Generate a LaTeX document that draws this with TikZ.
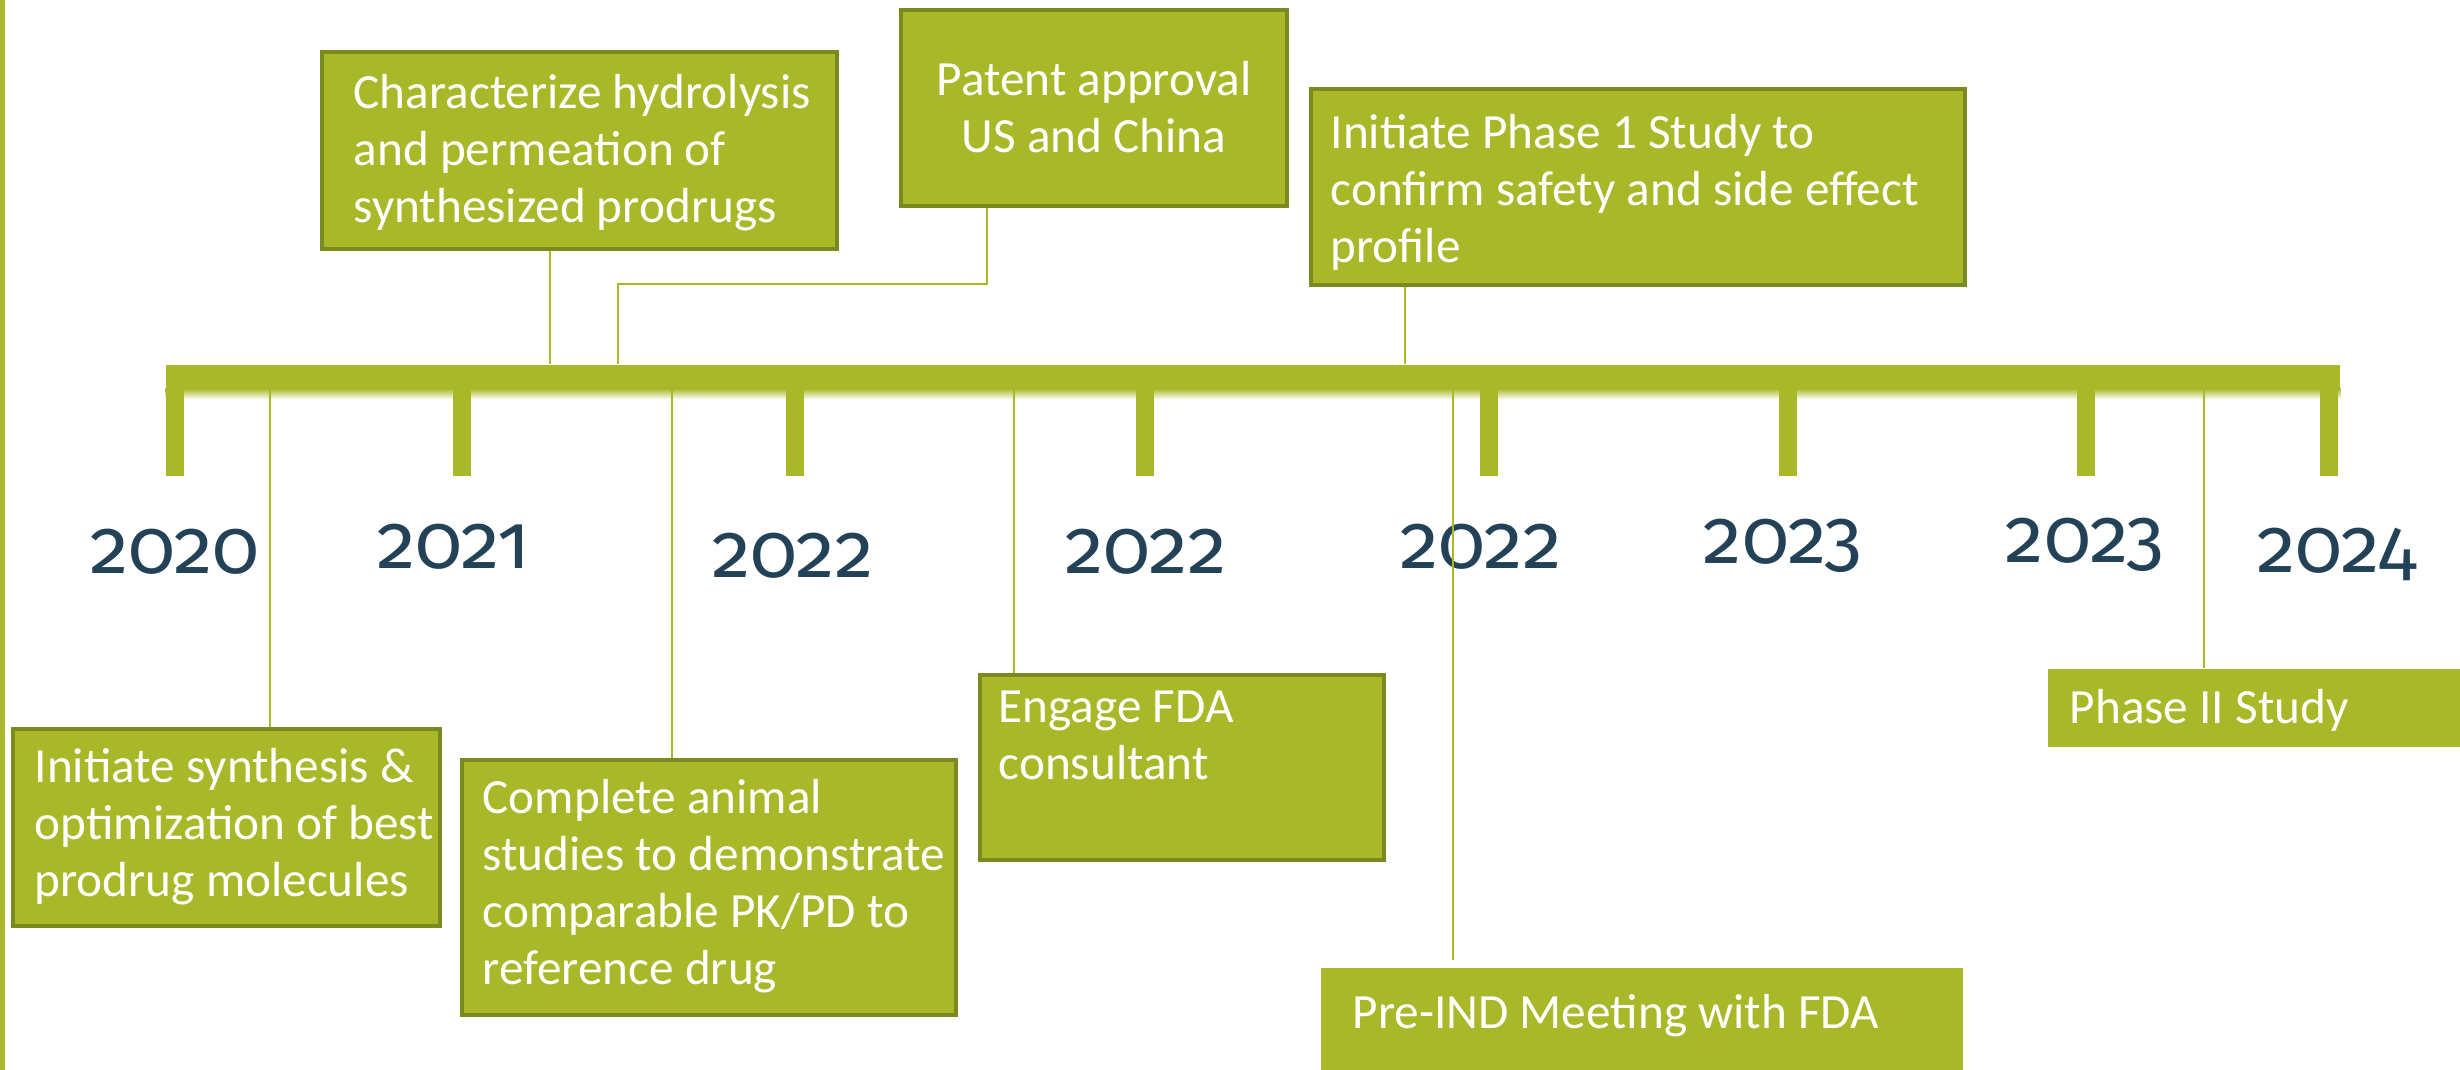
\documentclass[tikz,border=0pt]{standalone}
\usepackage{fontspec}
\setmainfont{Carlito}
\newfontfamily\yearfont{Fira Sans}[Numbers=OldStyle]
\definecolor{leaf}{RGB}{168,184,41}
\definecolor{leafdark}{RGB}{122,138,30}
\definecolor{slate}{RGB}{35,66,88}

\begin{document}
\begin{tikzpicture}[x=0.01cm,y=-0.01cm,
    stage/.style={fill=leaf,draw=leafdark,line width=1.1pt,inner sep=0pt,anchor=north west},
    flatbox/.style={fill=leaf,inner sep=0pt,anchor=north west},
    txt/.style={text=white,font=\fontsize{14}{16.2}\selectfont,align=left,anchor=base west,inner sep=0pt},
    tickmark/.style={fill=leaf,inner sep=0pt,minimum width=0.18cm,minimum height=1.11cm,anchor=north},
    year/.style={text=slate,font=\yearfont\fontsize{22}{26}\selectfont,anchor=base},
    link/.style={draw=leaf,line width=0.6pt}]
   \useasboundingbox (0,0) rectangle (2460,1070);
   \fill[leaf] (0,0) rectangle (5,1070);

   \node[fill=leaf,inner sep=0pt,minimum width=21.73cm,minimum height=0.23cm,anchor=north west] (axis) at (165,364) {};
   \shade[top color=leaf,bottom color=white] (axis.south west) rectangle ([yshift=-0.11cm]axis.south east);
   \foreach \x/\lx/\ly/\yr [count=\i] in {175/175/573/2020,462/454/568/2021,795/793/577/2022,
       1145/1146/573/2022,1489/1481/568/2022,1788/1783/563/2023,2086/2085/562/2023,2329/2337/572/2024}{
     \node[tickmark] (t\i) at (\x,364) {};
     \node[year] (y\i) at (\lx,\ly) {\yr};
   }

   \node[stage,minimum width=5.15cm,minimum height=1.97cm,
     label={[txt,xshift=0.33cm,yshift=-1.723cm]north west:{Characterize hydrolysis\\and permeation of\\synthesized prodrugs}}] (charac) at (320,50) {};
   \node[stage,minimum width=3.86cm,minimum height=1.96cm,
     label={[txt,anchor=base,align=center,yshift=-1.44cm]north:{Patent approval\\US and China}}] (patent) at (899,8) {};
   \node[stage,minimum width=6.54cm,minimum height=1.96cm,
     label={[txt,xshift=0.21cm,yshift=-1.753cm]north west:{Initiate Phase 1 Study to\\confirm safety and side effect\\profile}}] (phaseone) at (1309,87) {};
   \node[stage,minimum width=4.27cm,minimum height=1.97cm,
     label={[txt,xshift=0.23cm,yshift=-1.693cm]north west:{Initiate synthesis \&\\optimization of best\\prodrug molecules}}] (synth) at (11,727) {};
   \node[stage,minimum width=4.94cm,minimum height=2.55cm,
     label={[txt,xshift=0.22cm,yshift=-2.265cm]north west:{Complete animal\\studies to demonstrate\\comparable PK/PD to\\reference drug}}] (animal) at (460,758) {};
   \node[stage,minimum width=4.04cm,minimum height=1.85cm,
     label={[txt,xshift=0.20cm,yshift=-1.06cm]north west:{Engage FDA\\consultant}}] (engage) at (978,673) {};
   \node[flatbox,minimum width=6.42cm,minimum height=1.03cm,
     label={[txt,xshift=0.32cm,yshift=-0.61cm]north west:{Pre-IND Meeting with FDA}}] (preind) at (1320,967) {};
   \node[flatbox,minimum width=4.13cm,minimum height=0.78cm,
     label={[txt,xshift=0.22cm,yshift=-0.55cm]north west:{Phase II Study}}] (phasetwo) at (2047,668) {};

   \coordinate (pbend) at (618,284);
   \draw[link] ([xshift=-0.3cm]charac.south) -- ([xshift=-0.3cm]charac.south |- axis.north);
   \draw[link] ([xshift=-1.07cm]patent.south) |- (pbend) -- (pbend |- axis.north);
   \draw[link] ([xshift=-2.33cm]phaseone.south) -- ([xshift=-2.33cm]phaseone.south |- axis.north);
   \draw[link] ([xshift=0.43cm]synth.north) -- ([xshift=0.43cm]synth.north |- axis.south);
   \draw[link] ([xshift=-0.37cm]animal.north) -- ([xshift=-0.37cm]animal.north |- axis.south);
   \draw[link] ([xshift=-1.68cm]engage.north) -- ([xshift=-1.68cm]engage.north |- axis.south);
   \draw[link,shorten <=0.07cm] ([xshift=-1.89cm]preind.north) -- ([xshift=-1.89cm]preind.north |- axis.south);
   \draw[link] ([xshift=-0.505cm]phasetwo.north) -- ([xshift=-0.505cm]phasetwo.north |- axis.south);
\end{tikzpicture}
\end{document}
